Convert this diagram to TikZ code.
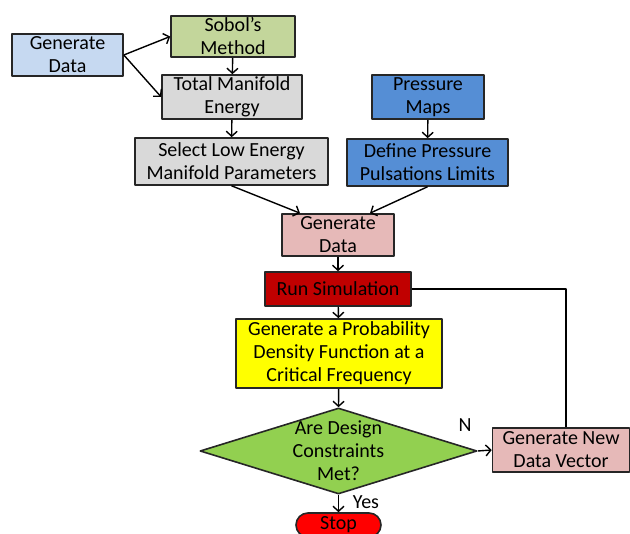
\documentclass[tikz,border=0pt]{standalone}
\usepackage{fontspec}
\setmainfont{Carlito}
\usetikzlibrary{shapes.geometric,arrows.meta}

\definecolor{azzurro}{HTML}{C6D9F1}
\definecolor{verdino}{HTML}{C3D69B}
\definecolor{grigio}{HTML}{D9D9D9}
\definecolor{blu}{HTML}{558ED5}
\definecolor{rosa}{HTML}{E6B9B8}
\definecolor{rossoscuro}{HTML}{C00000}
\definecolor{giallo}{HTML}{FFFF00}
\definecolor{verde}{HTML}{92D050}
\definecolor{rosso}{HTML}{FF0000}

\begin{document}
\begin{tikzpicture}[x=1pt,y=1pt,line join=round,font=\fontsize{20}{23}\selectfont,
  box/.style={draw=black!85,line width=1.6pt,align=center,inner sep=0pt},
  freccia/.style={-{Straight Barb[length=5pt,width=11pt]},line width=1.4pt}]

  \useasboundingbox (0,0) rectangle (630,534);

  % ---- colonna di sinistra -------------------------------------------------
  \node[box,fill=azzurro,minimum width=111,minimum height=42] (gendati) at (67.5,479) {Generate\\Data};
  \node[box,fill=verdino,minimum width=124,minimum height=41] (sobol) at (233,497.5) {Sobol’s\\Method};
  \node[box,fill=grigio,minimum width=140,minimum height=44] (energia) at (232,437) {Total Manifold\\Energy};
  \node[box,fill=grigio,minimum width=193,minimum height=47] (selezione) at (231.5,372.5) {Select Low Energy\\Manifold Parameters};

  % ---- colonna di destra ---------------------------------------------------
  \node[box,fill=blu,minimum width=112,minimum height=44] (mappe) at (428,437) {Pressure\\Maps};
  \node[box,fill=blu,minimum width=161,minimum height=47] (limiti) at (427.5,371.5) {Define Pressure\\Pulsations Limits};

  % ---- il ciclo di simulazione ---------------------------------------------
  \node[box,fill=rosa,minimum width=112,minimum height=42] (gendati2) at (338,299) {Generate\\Data};
  \node[box,fill=rossoscuro,minimum width=146,minimum height=34] (simula) at (338,245) {Run Simulation};
  \node[box,fill=giallo,minimum width=206,minimum height=69] (densita) at (339,180.5) {Generate a Probability\\Density Function at a\\Critical Frequency};
  \node[diamond,draw=black!85,line width=1.6pt,fill=verde,minimum width=277,minimum height=86,inner sep=0pt] (vincoli) at (338.5,83) {};
  \node[align=center] (vincolitxt) at (vincoli) {Are Design\\Constraints\\Met?};
  \node[box,fill=rosa,minimum width=137,minimum height=44] (nuovi) at (561,84) {Generate New\\Data Vector};
  \node[box,fill=rosso,rounded corners=12,minimum width=85,minimum height=24] (stop) at (338.5,9) {Stop};

  % ---- etichette -----------------------------------------------------------
  \node (si) at (366,32) {Yes};
  \node (no) at (465,109) {N};

  % ---- le frecce -----------------------------------------------------------
  \draw[freccia] (gendati.east) -- (sobol.west);
  \draw[freccia] (gendati.east) -- (energia.west);
  \draw[freccia] (sobol) -- (energia);
  \draw[freccia] (energia) -- (selezione);
  \draw[freccia] (mappe) -- (limiti);
  \draw[freccia] (selezione.south) -- ([xshift=-38]gendati2.north);
  \draw[freccia] (limiti.south) -- ([xshift=32]gendati2.north);
  \draw[freccia] (gendati2) -- (simula);
  \draw[freccia] (simula) -- (densita);
  \draw[freccia] (densita) -- (vincoli.north);
  \draw[freccia] (vincoli.south) -- (stop);
  \draw[freccia] (vincoli.east) -- (nuovi.west);
  \draw[line width=1.4pt] (simula.east) -| ([xshift=5]nuovi.north);

\end{tikzpicture}
\end{document}
